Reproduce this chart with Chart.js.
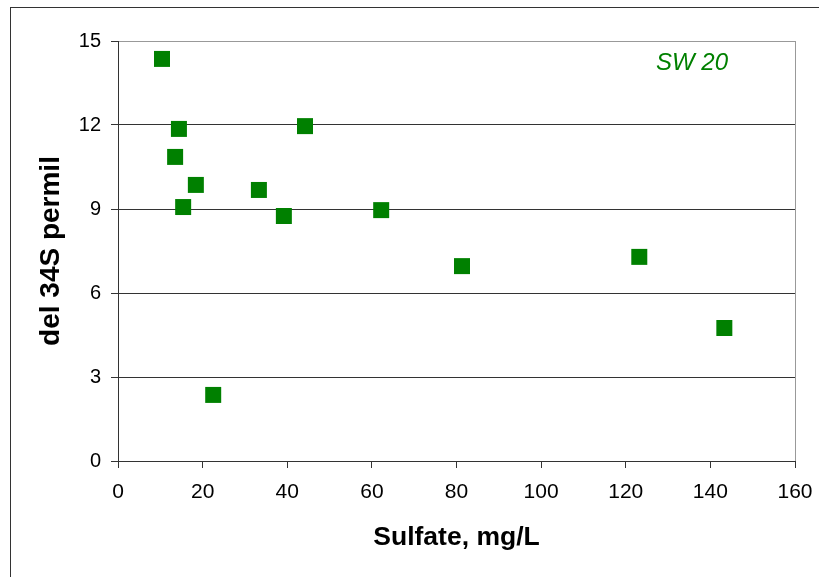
<!DOCTYPE html>
<html>
<head>
<meta charset="utf-8">
<script src="https://cdn.jsdelivr.net/npm/chart.js@4/dist/chart.umd.min.js"></script>
<style>
body{margin:0;background:#fff;}
#marco{position:absolute;left:10px;top:7px;width:900px;height:700px;border-left:1px solid #333;border-top:1px solid #333;}
#caja{position:absolute;left:0;top:0;width:819px;height:577px;}
</style>
</head>
<body>
<div id="marco"></div>
<div id="caja"><canvas id="grafico" width="819" height="577"></canvas></div>
<script>
// Datos
let sulfato = [10.4, 14.4, 44.2, 13.5, 18.4, 33.3, 15.4, 39.2, 62.2, 81.3, 123.2, 143.3, 22.5];
let del34S = [14.36, 11.86, 11.96, 10.86, 9.86, 9.68, 9.07, 8.75, 8.96, 6.96, 7.29, 4.75, 2.36];
let ticksX = [0, 20, 40, 60, 80, 100, 120, 140, 160];
let ticksY = [0, 3, 6, 9, 12, 15];
let etiqueta = "SW 20";

let puntos = sulfato.map((s, i) => ({x: s, y: del34S[i]}));
let fuente = "'Liberation Sans', Arial, sans-serif";

// Texto SW 20 dentro del area
const textoSW = {
id: "textoSW",
afterDraw(chart){
const ctx = chart.ctx;
const area = chart.chartArea;
ctx.save();
ctx.font = "italic 24px " + fuente;
ctx.fillStyle = "#008000";
ctx.textAlign = "right";
ctx.textBaseline = "alphabetic";
ctx.fillText(etiqueta, area.right - 67, area.top + 29);
ctx.restore();
}
};

new Chart(document.getElementById("grafico"), {
type: "scatter",
data: {
datasets: [{
data: puntos,
pointStyle: "rect",
pointRadius: 11.31,
pointHoverRadius: 11.31,
pointBorderWidth: 0,
backgroundColor: "#008000",
borderColor: "#008000"
}]
},
options: {
responsive: false,
animation: false,
events: [],
layout: {padding: {top: 41, right: 24, left: 0, bottom: 0}},
plugins: {legend: {display: false}, tooltip: {enabled: false}},
scales: {
x: {
type: "linear",
min: 0, max: 160,
afterBuildTicks: s => { s.ticks = ticksX.map(v => ({value: v})); },
afterFit: s => { s.height = 116; s.paddingLeft = 0; s.paddingRight = 0; },
grid: {
drawOnChartArea: true,
color: c => c.tick && c.tick.value === 160 ? "#999" : "rgba(0,0,0,0)",
tickColor: "#333",
tickLength: 7
},
border: {color: "#333", width: 1},
ticks: {color: "#000", padding: 12, font: {family: fuente, size: 21}, maxRotation: 0},
title: {display: true, text: "Sulfate, mg/L", color: "#000", font: {family: fuente, size: 26.5, weight: "bold"}, padding: {top: 0, bottom: 23}}
},
y: {
type: "linear",
min: 0, max: 15,
afterBuildTicks: s => { s.ticks = ticksY.map(v => ({value: v})); },
afterFit: s => { s.width = 118; },
grid: {
color: c => c.tick.value === 15 ? "#999" : (c.tick.value === 0 ? "rgba(0,0,0,0)" : "#333"),
tickColor: "#333",
tickLength: 7
},
border: {color: "#333", width: 1},
ticks: {color: "#000", padding: 10, font: {family: fuente, size: 20}},
title: {display: true, text: "del 34S permil", color: "#000", font: {family: fuente, size: 28, weight: "bold"}, padding: {top: 34, bottom: 0}}
}
}
},
plugins: [textoSW]
});
</script>
</body>
</html>
